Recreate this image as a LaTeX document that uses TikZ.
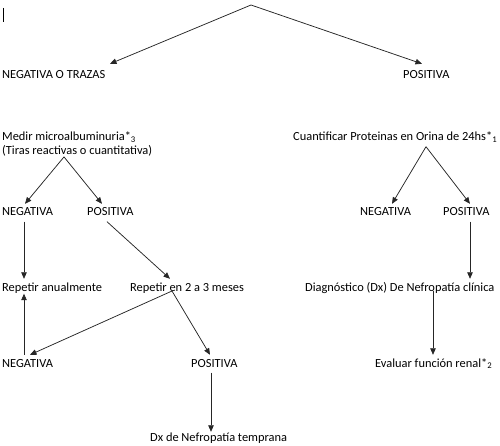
\documentclass[tikz,border=0pt]{standalone}
\usepackage{fontspec}
\setmainfont{Carlito}
\usepackage{tikz}
\usetikzlibrary{positioning, arrows.meta}
\tikzset{
	>={Triangle[length=6.5pt,width=5.5pt]}, % filled heads as in the chart
	link/.style={->, line width=0.75pt, black!85}, % connectors
	txt/.style={inner xsep=0pt, inner ysep=3pt, text height=9pt, text depth=2.5pt, anchor=base west, font=\fontsize{12.4}{14.5}\selectfont},
	txtml/.style={inner xsep=0pt, inner ysep=3pt, anchor=base west, align=left, font=\fontsize{12.4}{14.5}\selectfont},
}
\begin{document}
\begin{tikzpicture}[x=1pt, y=-1pt]
		\useasboundingbox (0,0) rectangle (500,446);
		% Define nodes
		\coordinate (top) at (251,5);
		\node[txt] (negtr) at (2,79) {NEGATIVA O TRAZAS};
		\node[txt] (pos) at (403,79) {POSITIVA};
		\node[txtml] (medir) at (2,155) {Medir microalbuminuria*\textsubscript{3}\\(Tiras reactivas o cuantitativa)};
		\node[txt] (cuant) at (293,141) {Cuantificar Proteinas en Orina de 24hs*\textsubscript{1}};
		\node[txt] (negA) at (2,216) {NEGATIVA};
		\node[txt] (posA) at (87,216) {POSITIVA};
		\node[txt] (negB) at (360,216) {NEGATIVA};
		\node[txt] (posB) at (443,216) {POSITIVA};
		\node[txt] (anual) at (2,291) {Repetir anualmente};
		\node[txt] (meses) at (130,291) {Repetir en 2 a 3 meses};
		\node[txt] (dxc) at (305,291) {Diagnóstico (Dx) De Nefropatía clínica};
		\node[txt] (negC) at (2,367) {NEGATIVA};
		\node[txt] (posC) at (191,367) {POSITIVA};
		\node[txt] (eval) at (375,367) {Evaluar función renal*\textsubscript{2}};
		\node[txt] (dxt) at (150,441) {Dx de Nefropatía temprana};
		
		% stray cursor mark
		\draw[line width=0.9pt] (3,8) -- (3,22);
		
		% Connectors
		\path[link]
		(top) edge ([xshift=108pt,yshift=3pt]negtr.north west)
		(top) edge ([xshift=19pt,yshift=3pt]pos.north west)
		([xshift=62pt,yshift=3pt]medir.south west) edge ([xshift=23pt]negA.north west)
		([xshift=62pt,yshift=3pt]medir.south west) edge ([xshift=15pt]posA.north west)
		([xshift=22pt]negA.south west) edge ([xshift=22pt]anual.north west)
		([xshift=20pt]posA.south west) edge ([xshift=40pt]meses.north west)
		([xshift=42pt]meses.base west) edge ([xshift=28pt]negC.north west)
		([xshift=42pt]meses.base west) edge ([xshift=19pt]posC.north west)
		([xshift=22pt]negC.north west) edge ([xshift=22pt,yshift=3pt]anual.south west)
		([xshift=20pt]posC.south west) edge ([xshift=61pt,yshift=-3pt]dxt.north west)
		([xshift=133pt]cuant.south west) edge ([xshift=32pt]negB.north west)
		([xshift=133pt]cuant.south west) edge ([xshift=27pt]posB.north west)
		([xshift=27pt]posB.south west) edge ([xshift=165pt]dxc.north west)
		([xshift=128pt]dxc.base west) edge ([xshift=58pt]eval.north west);
	\end{tikzpicture}
\end{document}
